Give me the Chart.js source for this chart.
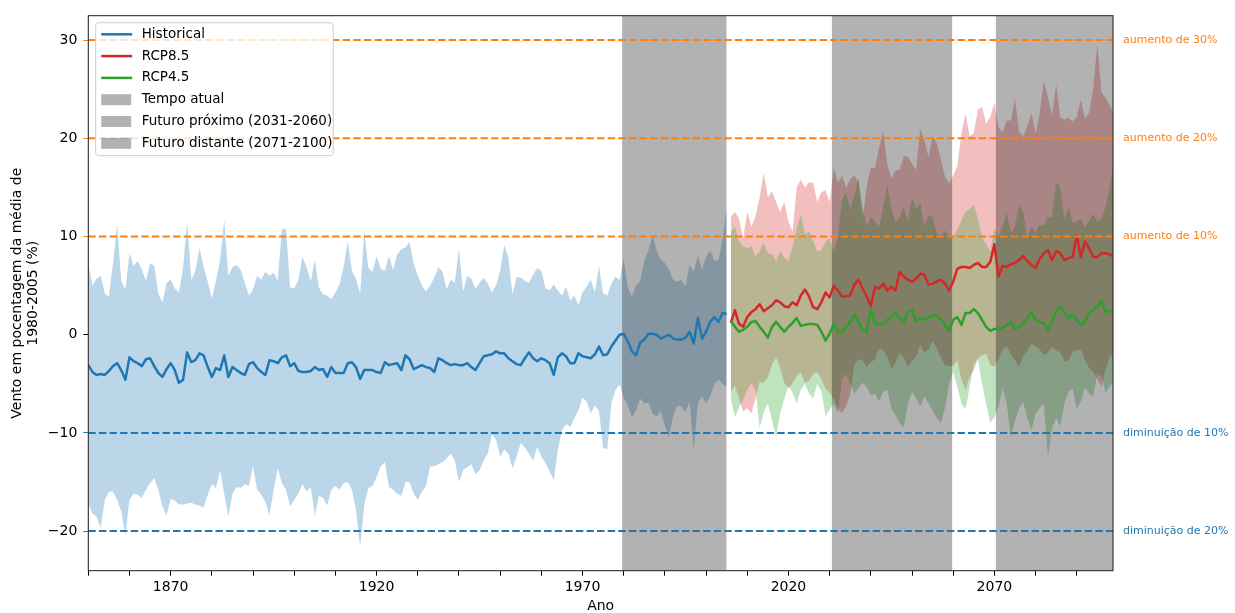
<!DOCTYPE html>
<html>
<head>
<meta charset="utf-8">
<script src="https://cdn.jsdelivr.net/npm/chart.js@4.4.1/dist/chart.umd.min.js"></script>
<style>
  html, body { margin: 0; padding: 0; background: #fff; }
  canvas { display: block; }
</style>
</head>
<body>
<canvas id="windChart" width="1235" height="613"></canvas>
<script>
// Wind change, % relative to the 1980-2005 mean (one value per year)

const histStartYear = 1850;   // historical run: 1850-2005
const futureStartYear = 2006; // scenarios: 2006-2099

// historical ensemble mean, upper and lower envelope
const histMean = [
  -3.1, -3.8, -4.1, -4.0, -4.1, -3.7, -3.2, -2.9, -3.6, -4.6,
  -2.3, -2.7, -2.9, -3.2, -2.5, -2.4, -3.2, -3.9, -4.3, -3.5,
  -2.9, -3.6, -4.9, -4.6, -1.8, -2.8, -2.6, -1.9, -2.1, -3.3,
  -4.3, -3.4, -3.6, -2.1, -4.3, -3.3, -3.6, -3.9, -4.1, -3.0,
  -2.8, -3.4, -3.8, -4.1, -2.6, -2.7, -2.9, -2.3, -2.1, -3.2,
  -2.9, -3.7, -3.8, -3.8, -3.7, -3.3, -3.6, -3.5, -4.3, -3.3,
  -3.9, -3.9, -3.9, -2.9, -2.8, -3.3, -4.5, -3.6, -3.6, -3.6,
  -3.8, -3.9, -2.8, -3.1, -3.0, -2.9, -3.6, -2.1, -2.5, -3.5,
  -3.3, -3.1, -3.3, -3.4, -3.8, -2.4, -2.6, -2.9, -3.1, -3.0,
  -3.1, -3.1, -2.9, -3.3, -3.6, -2.9, -2.2, -2.1, -2.0, -1.7,
  -1.9, -1.9, -2.4, -2.7, -3.0, -3.1, -2.4, -1.8, -2.4, -2.7,
  -2.4, -2.6, -2.9, -4.1, -2.3, -1.9, -2.2, -2.9, -2.9, -1.9,
  -2.2, -2.3, -2.4, -2.0, -1.2, -2.1, -2.0, -1.2, -0.6, 0.0,
  0.1, -0.7, -1.7, -2.1, -0.8, -0.5, 0.1, 0.1, 0.0, -0.4,
  -0.2, 0.0, -0.4, -0.5, -0.5, -0.3, 0.3, -0.9, 1.7, -0.4,
  0.3, 1.3, 1.8, 1.3, 2.2, 2.1
];
const histHigh = [
  7.3, 5.0, 5.7, 6.0, 4.2, 3.9, 7.3, 11.2, 5.5, 4.6,
  8.3, 7.0, 7.5, 6.6, 5.5, 7.3, 7.0, 4.2, 3.3, 5.3,
  5.6, 4.7, 4.3, 6.8, 11.5, 5.6, 6.5, 8.8, 6.9, 5.4,
  3.7, 5.5, 7.6, 11.7, 6.0, 6.9, 7.1, 6.6, 5.3, 4.0,
  4.6, 6.0, 5.6, 6.4, 6.0, 6.3, 5.5, 10.7, 10.8, 4.8,
  4.7, 5.6, 7.9, 6.9, 5.4, 7.6, 4.8, 4.1, 4.0, 3.6,
  4.3, 5.1, 6.9, 9.5, 6.5, 5.7, 4.2, 10.5, 6.8, 6.4,
  8.0, 6.7, 6.5, 8.0, 6.6, 8.2, 8.7, 8.9, 9.4, 7.3,
  6.0, 5.0, 4.4, 5.0, 5.8, 6.9, 6.4, 4.6, 5.6, 5.3,
  8.8, 4.4, 6.0, 5.7, 4.7, 5.3, 5.8, 5.2, 4.3, 5.0,
  6.5, 9.1, 7.9, 4.1, 5.9, 5.8, 5.5, 5.3, 6.1, 6.8,
  6.5, 4.7, 4.5, 5.1, 4.5, 4.0, 4.9, 3.5, 4.0, 3.0,
  4.3, 4.9, 5.6, 4.3, 7.0, 4.2, 4.0, 5.2, 5.9, 5.6,
  7.7, 4.8, 3.9, 5.0, 5.4, 7.5, 8.6, 10.1, 8.6, 7.6,
  7.3, 6.6, 5.6, 5.4, 5.6, 4.9, 7.1, 6.4, 8.1, 6.6,
  7.9, 8.6, 7.5, 7.6, 9.7, 13.0
];
const histLow = [
  -17.2, -18.2, -18.5, -19.7, -16.8, -16.0, -16.0, -16.8, -18.0, -20.4,
  -16.8, -16.2, -16.3, -16.6, -15.8, -15.1, -14.6, -15.8, -17.5, -18.4,
  -16.7, -16.9, -17.3, -17.3, -17.2, -17.1, -17.3, -17.4, -17.6, -16.3,
  -15.2, -15.6, -13.8, -16.2, -18.5, -16.2, -15.5, -15.6, -15.2, -15.4,
  -13.4, -15.8, -16.3, -17.0, -18.4, -15.8, -13.6, -15.1, -15.8, -17.5,
  -16.8, -16.2, -15.2, -16.0, -15.5, -18.4, -16.4, -16.6, -17.4, -15.8,
  -15.4, -15.8, -15.1, -15.0, -15.8, -17.8, -21.6, -17.4, -15.6, -15.4,
  -14.5, -13.4, -13.0, -15.5, -15.8, -16.2, -16.4, -15.0, -15.0, -16.2,
  -16.8, -16.0, -15.4, -13.4, -13.4, -13.2, -13.0, -12.6, -12.1, -12.8,
  -15.0, -13.8, -13.5, -13.2, -14.2, -13.8, -12.8, -12.1, -10.1, -10.7,
  -12.4, -11.7, -12.1, -13.6, -12.4, -11.0, -11.5, -12.1, -12.8, -11.4,
  -12.4, -13.1, -13.9, -14.8, -11.8, -9.7, -9.1, -9.4, -8.5, -7.7,
  -6.4, -6.8, -8.0, -7.2, -7.8, -11.5, -11.7, -7.0, -5.6, -5.1,
  -6.4, -7.2, -8.4, -7.7, -6.5, -7.0, -6.9, -8.0, -8.3, -7.8,
  -9.3, -10.5, -8.3, -7.2, -7.3, -7.9, -6.8, -11.7, -7.0, -6.3,
  -7.0, -6.3, -5.0, -4.6, -5.0, -5.3
];

// RCP8.5 scenario
const rcp85Mean = [
  1.2, 2.5, 1.1, 0.8, 1.8, 2.3, 2.6, 3.1, 2.4, 2.7,
  3.0, 3.5, 3.3, 2.9, 2.8, 3.3, 3.0, 4.0, 4.6, 3.9,
  2.8, 2.6, 3.3, 4.3, 3.8, 5.0, 4.5, 3.9, 3.9, 4.0,
  5.1, 5.6, 4.7, 3.9, 2.9, 4.9, 4.7, 5.2, 4.5, 4.9,
  4.5, 6.4, 5.9, 5.6, 5.4, 5.7, 6.2, 6.1, 5.1, 5.2,
  5.4, 5.6, 5.2, 4.5, 5.4, 6.7, 6.9, 6.9, 6.8, 7.1,
  7.3, 6.9, 6.9, 7.4, 9.2, 5.9, 7.0, 6.9, 7.2, 7.3,
  7.6, 8.0, 7.5, 7.1, 6.8, 7.7, 8.3, 8.6, 7.6, 8.5,
  8.3, 7.6, 7.8, 7.9, 10.1, 7.9, 9.5, 8.8, 7.9, 7.9,
  8.3, 8.3, 8.2, 7.9
];
const rcp85High = [
  12.0, 12.5, 11.8, 9.8, 12.5, 11.0, 12.0, 14.0, 16.5, 14.0,
  14.6, 13.5, 12.5, 13.5, 11.5, 10.5, 15.0, 15.8, 15.0, 15.5,
  15.5, 13.5, 14.5, 14.7, 13.5, 17.0, 15.5, 16.2, 15.0, 15.8,
  16.2, 15.5, 11.8, 15.1, 17.0, 17.0, 19.0, 20.7, 17.3, 15.9,
  16.7, 16.8, 18.2, 18.1, 17.4, 16.8, 21.0, 19.8, 18.1, 20.2,
  19.5, 17.8, 16.1, 15.4, 16.2, 17.2, 20.5, 22.5, 20.2, 20.5,
  22.9, 23.2, 21.5, 22.2, 23.6, 21.1, 20.6, 21.8, 21.8, 24.0,
  20.7, 20.2, 21.2, 22.6, 20.5, 22.5, 25.9, 24.2, 22.3, 25.5,
  22.1, 21.9, 22.1, 21.7, 22.2, 23.9, 22.0, 22.6, 25.1, 29.6,
  24.7, 24.1, 23.4, 22.5
];
const rcp85Low = [
  -5.8, -5.2, -6.5, -7.8, -7.5, -8.0, -6.5, -4.8, -4.9, -4.3,
  -3.0, -2.3, -3.4, -4.9, -5.5, -4.9, -4.2, -3.8, -4.9, -4.7,
  -4.0, -3.8, -4.5, -5.5, -5.9, -6.5, -7.5, -8.0, -7.3, -6.0,
  -3.0, -2.5, -2.6, -3.3, -2.8, -2.5, -1.4, -1.6, -2.2, -3.5,
  -2.8, -1.9, -2.3, -3.3, -2.7, -2.2, -1.0, -1.8, -1.5, -0.6,
  -1.4, -2.3, -3.1, -3.2, -3.2, -2.6, -4.6, -5.6, -4.3, -3.6,
  -2.4, -2.1, -1.9, -3.1, -3.3, -2.5, -1.5, -1.2, -2.0, -2.6,
  -3.3, -2.2, -1.6, -0.9, -1.2, -1.5, -2.1, -1.8, -1.2, -1.6,
  -1.8, -2.7, -2.6, -1.7, -1.6, -1.5, -2.6, -3.4, -3.8, -4.5,
  -5.3, -3.5, -2.3, -1.9
];

// RCP4.5 scenario
const rcp45Mean = [
  1.4, 0.8, 0.3, 0.5, 0.8, 1.3, 1.4, 0.8, 0.3, -0.3,
  0.8, 1.3, 0.8, 0.3, 0.8, 1.2, 1.7, 0.9, 1.0, 1.1,
  1.1, 1.0, 0.3, -0.6, 0.1, 1.1, 0.3, 0.3, 0.8, 1.3,
  2.0, 1.3, 0.5, 0.3, 2.5, 1.2, 1.0, 1.1, 1.5, 1.9,
  2.3, 1.7, 1.3, 2.3, 2.5, 1.3, 1.7, 1.5, 1.7, 2.0,
  1.9, 1.6, 1.0, 0.4, 1.5, 1.8, 1.0, 2.2, 2.2, 2.6,
  2.2, 1.5, 0.8, 0.4, 0.6, 0.5, 0.7, 1.0, 1.3, 0.6,
  0.8, 1.1, 1.7, 2.3, 1.5, 1.3, 1.2, 0.5, 1.3, 2.4,
  2.8, 2.3, 1.7, 2.1, 1.5, 1.0, 1.3, 2.2, 2.5, 2.9,
  3.4, 2.3, 2.5, 2.3
];
const rcp45High = [
  10.5, 11.0, 9.5, 9.0, 8.8, 9.0, 8.0, 8.5, 9.3, 8.3,
  8.2, 7.5, 8.5, 7.8, 7.5, 9.0, 10.8, 12.3, 10.2, 10.5,
  9.5, 8.5, 8.6, 9.5, 9.8, 8.5, 10.0, 13.7, 14.5, 12.7,
  14.2, 16.0, 13.0, 11.0, 12.0, 11.5, 11.0, 13.0, 15.2, 12.8,
  11.5, 11.9, 13.0, 11.5, 14.0, 12.8, 13.4, 11.0, 12.2, 11.9,
  10.3, 10.1, 10.6, 10.0, 9.9, 10.7, 11.6, 12.5, 12.8, 13.2,
  11.8, 10.0, 9.2, 8.5, 10.8, 10.0, 11.0, 12.4, 10.4, 11.0,
  13.2, 12.5, 9.9, 11.0, 10.4, 11.2, 11.1, 12.0, 12.0, 15.5,
  15.0, 11.8, 13.0, 11.4, 11.5, 11.8, 11.0, 11.6, 12.3, 11.5,
  11.8, 13.0, 15.0, 17.8
];
const rcp45Low = [
  -6.5, -8.4, -7.4, -6.6, -5.6, -4.9, -5.6, -9.5, -7.9, -7.0,
  -8.7, -10.4, -8.0, -6.5, -5.2, -5.9, -7.0, -5.6, -5.0, -6.0,
  -6.5, -5.0, -5.8, -8.3, -7.6, -7.0, -8.0, -4.5, -4.0, -5.0,
  -6.0, -5.4, -4.9, -5.3, -6.2, -6.0, -6.8, -5.8, -5.6, -7.5,
  -8.2, -9.0, -9.5, -7.0, -5.8, -6.5, -7.3, -6.3, -7.0, -7.7,
  -8.5, -9.0, -7.5, -5.0, -3.8, -5.3, -7.0, -7.6, -5.3, -3.0,
  -2.5, -5.0, -7.0, -9.0, -8.4, -7.3, -5.5, -7.0, -10.4, -8.8,
  -7.5, -6.9, -8.5, -9.7, -8.0, -7.5, -7.0, -12.4, -9.5, -8.5,
  -9.3, -7.0, -5.8, -5.5, -7.6, -6.8, -5.3, -6.0, -6.3, -4.0,
  -4.2, -5.9, -5.3, -4.6
];

// shaded reference periods
const periodLabels = ['Tempo atual', 'Futuro próximo (2031-2060)', 'Futuro distante (2071-2100)'];
const periodStart = [1979.6, 2030.5, 2070.3];
const periodEnd = [2005, 2059.8, 2100];

// horizontal reference lines and their captions
const refLevels = [30, 20, 10, -10, -20];
const refLabels = ['aumento de 30%', 'aumento de 20%', 'aumento de 10%', 'diminuição de 10%', 'diminuição de 20%'];

const xLabelYears = [1870, 1920, 1970, 2020, 2070];
const X_MIN = 1850, X_MAX = 2098.8;
const Y_MIN = -24.03, Y_MAX = 32.48;

const BLUE = '#1f77b4', RED = '#d62728', GREEN = '#2ca02c', ORANGE = '#ff7f0e';

Chart.defaults.font.family = "'DejaVu Sans', sans-serif";
Chart.defaults.font.size = 14;
Chart.defaults.color = '#000';

function toPoints(startYear, values) {
  return values.map((v, i) => ({ x: startYear + i, y: v }));
}

function edge(startYear, values, order) {
  return {
    data: toPoints(startYear, values),
    borderWidth: 0, borderColor: 'transparent',
    pointRadius: 0, fill: false, order
  };
}

function band(startYear, hi, lo, color, order) {
  return [
    edge(startYear, hi, order + 1),
    Object.assign(edge(startYear, lo, order), { fill: '-1', backgroundColor: color })
  ];
}

function meanLine(label, startYear, values, color, order) {
  return {
    label, inLegend: 'line',
    data: toPoints(startYear, values),
    borderColor: color, borderWidth: 2.5,
    pointRadius: 0, tension: 0, fill: false, order,
    borderJoinStyle: 'round'
  };
}

const datasets = [
  ...band(histStartYear, histHigh, histLow, 'rgba(31,119,180,0.3)', 60),
  ...band(futureStartYear, rcp85High, rcp85Low, 'rgba(214,39,40,0.3)', 50),
  ...band(futureStartYear, rcp45High, rcp45Low, 'rgba(44,160,44,0.3)', 40),
  ...periodLabels.map((label, i) => ({
    label, inLegend: 'patch',
    data: [{ x: periodStart[i], y: Y_MAX }, { x: periodEnd[i], y: Y_MAX }],
    borderWidth: 0, borderColor: 'transparent', pointRadius: 0,
    fill: 'start', backgroundColor: 'rgba(0,0,0,0.3)', order: 30
  })),
  meanLine('Historical', histStartYear, histMean, BLUE, 22),
  meanLine('RCP8.5', futureStartYear, rcp85Mean, RED, 21),
  meanLine('RCP4.5', futureStartYear, rcp45Mean, GREEN, 20),
  ...refLevels.map(v => ({
    data: [{ x: X_MIN, y: v }, { x: X_MAX, y: v }],
    borderColor: v > 0 ? ORANGE : BLUE, borderWidth: 2,
    borderDash: [7.4, 3.2], pointRadius: 0, fill: false, order: 10
  }))
];

// legend order: lines first, then the shaded periods
const legendOrder = ['Historical', 'RCP8.5', 'RCP4.5', ...periodLabels];

const framePlugin = {
  id: 'frame',
  afterDatasetsDraw(chart) {
    const { ctx, chartArea: a } = chart;
    ctx.save();
    ctx.strokeStyle = '#1a1a1a';
    ctx.lineWidth = 1;
    ctx.strokeRect(a.left, a.top, a.right - a.left, a.bottom - a.top);
    ctx.restore();
  }
};

const refLabelPlugin = {
  id: 'refLabels',
  afterDraw(chart) {
    const { ctx, chartArea: a, scales } = chart;
    ctx.save();
    ctx.font = "11px 'DejaVu Sans'";
    ctx.textAlign = 'left';
    ctx.textBaseline = 'middle';
    refLevels.forEach((v, i) => {
      ctx.fillStyle = v > 0 ? ORANGE : BLUE;
      ctx.fillText(refLabels[i], a.right + 10, scales.y.getPixelForValue(v));
    });
    ctx.restore();
  }
};

const boxLegendPlugin = {
  id: 'boxLegend',
  afterDraw(chart) {
    const { ctx, chartArea: a } = chart;
    const x0 = a.left + 7.4, y0 = a.top + 7;
    const w = 237.5, h = 133, rowH = 21.8;
    ctx.save();
    ctx.beginPath();
    ctx.roundRect(x0, y0, w, h, 3);
    ctx.fillStyle = 'rgba(255,255,255,0.8)';
    ctx.fill();
    ctx.strokeStyle = '#cccccc';
    ctx.lineWidth = 1;
    ctx.stroke();

    ctx.font = "13.5px 'DejaVu Sans'";
    ctx.textBaseline = 'middle';
    legendOrder.forEach((label, i) => {
      const ds = chart.data.datasets.find(d => d.label === label);
      const cy = y0 + 11.6 + i * rowH;
      if (ds.inLegend === 'line') {
        ctx.strokeStyle = ds.borderColor;
        ctx.lineWidth = 2.5;
        ctx.beginPath();
        ctx.moveTo(x0 + 5.5, cy);
        ctx.lineTo(x0 + 36.5, cy);
        ctx.stroke();
      } else {
        ctx.fillStyle = ds.backgroundColor;
        ctx.fillRect(x0 + 5.5, cy - 5.5, 30, 11);
      }
      ctx.fillStyle = '#000';
      ctx.fillText(label, x0 + 46, cy);
    });
    ctx.restore();
  }
};

const refTickColor = ctx => {
  const v = ctx.tick && ctx.tick.value;
  if (v > 0) return ORANGE;
  if (v < 0) return BLUE;
  return '#000';
};

const tickFont = { size: 14 };

new Chart(document.getElementById('windChart'), {
  type: 'line',
  data: { datasets },
  plugins: [framePlugin, refLabelPlugin, boxLegendPlugin],
  options: {
    responsive: false,
    animation: false,
    events: [],
    layout: { padding: { left: 0, top: 15.7, right: 122, bottom: 0 } },
    plugins: { legend: { display: false }, tooltip: { enabled: false } },
    scales: {
      x: {
        type: 'linear',
        min: X_MIN, max: X_MAX,
        afterFit: s => { s.height = 42.3; },
        border: { display: false },
        grid: { drawOnChartArea: false, drawTicks: true, tickLength: 5, color: '#000' },
        ticks: {
          stepSize: 10, autoSkip: false, maxRotation: 0, includeBounds: false,
          padding: 3, color: '#000', font: tickFont,
          callback: v => xLabelYears.includes(v) ? String(v) : ''
        },
        title: { display: true, text: 'Ano', font: { size: 14, lineHeight: 1 }, padding: 0, color: '#000' }
      },
      y: {
        min: Y_MIN, max: Y_MAX,
        afterFit: s => { s.width = 88.3; },
        border: { display: false },
        grid: { drawOnChartArea: false, drawTicks: true, tickLength: 5, tickColor: refTickColor },
        ticks: {
          stepSize: 10, includeBounds: false, padding: 6, color: '#000', font: tickFont,
          callback: v => v < 0 ? '\u2212' + Math.abs(v) : String(v)
        },
        title: {
          display: true,
          text: ['Vento em pocentagem da média de', '1980-2005 (%)'],
          font: { size: 14, lineHeight: 1.2 },
          padding: { top: 8.6, bottom: 0 },
          color: '#000'
        }
      }
    }
  }
});
</script>
</body>
</html>
